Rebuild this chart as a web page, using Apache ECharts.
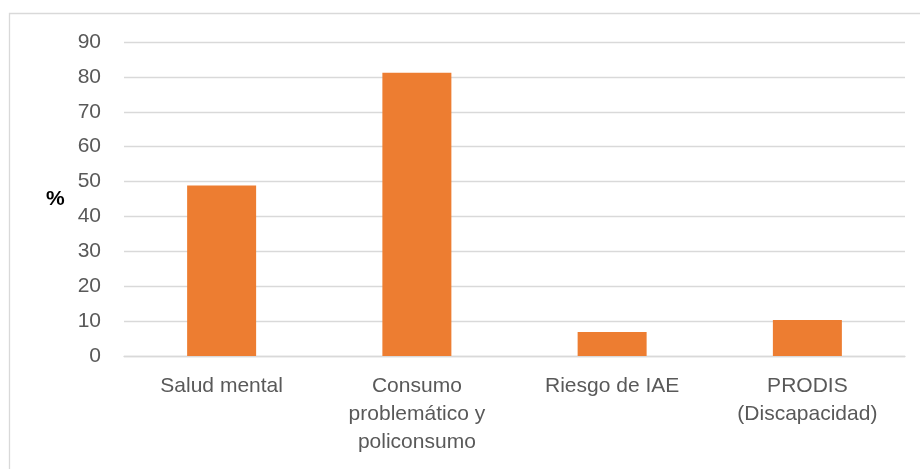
<!DOCTYPE html>
<html>
<head>
<meta charset="utf-8">
<script src="https://cdn.jsdelivr.net/npm/echarts@6/dist/echarts.min.js"></script>
<style>
  html, body { margin: 0; padding: 0; background: #ffffff; }
  #chart { width: 920px; height: 469px; }
</style>
</head>
<body>
<div id="chart"></div>
<script>
// Categories and percentage values
const categories = ['Salud mental', 'Consumo\nproblemático y\npoliconsumo', 'Riesgo de IAE', 'PRODIS\n(Discapacidad)'];
const percentages = [48.9, 81.2, 6.9, 10.3];
const yTicks = { min: 0, max: 90, interval: 10 };
const yTitle = '%';

const FONT = '"Liberation Sans", Arial, sans-serif';
const TEXT_GREY = '#595959';
const GRID_GREY = '#D9D9D9';

const chart = echarts.init(document.getElementById('chart'), null, { renderer: 'canvas' });

chart.setOption({
  animation: false,
  backgroundColor: '#ffffff',
  grid: { left: 124, right: 15, top: 42, bottom: 113, containLabel: false },
  graphic: [
    {
      type: 'rect',
      shape: { x: 9.5, y: 13.5, width: 960, height: 500 },
      style: { fill: 'none', stroke: GRID_GREY, lineWidth: 1.3 },
      silent: true
    },
    {
      type: 'text',
      left: 46,
      top: 189,
      style: { text: yTitle, font: 'bold 21px ' + FONT, fill: '#000000' }
    }
  ],
  xAxis: {
    type: 'category',
    data: categories,
    axisLine: { show: true, lineStyle: { color: GRID_GREY, width: 1.3 } },
    axisTick: { show: false },
    axisLabel: {
      color: TEXT_GREY,
      fontFamily: FONT,
      fontSize: 21,
      lineHeight: 28,
      margin: 16,
      interval: 0
    }
  },
  yAxis: {
    type: 'value',
    min: yTicks.min,
    max: yTicks.max,
    interval: yTicks.interval,
    axisLine: { show: false },
    axisTick: { show: false },
    splitLine: { lineStyle: { color: GRID_GREY, width: 1.3 } },
    axisLabel: {
      color: TEXT_GREY,
      fontFamily: FONT,
      fontSize: 21,
      margin: 23
    }
  },
  series: [
    {
      type: 'bar',
      data: percentages,
      barWidth: 69,
      itemStyle: { color: '#ED7D31' }
    }
  ]
});
</script>
</body>
</html>
